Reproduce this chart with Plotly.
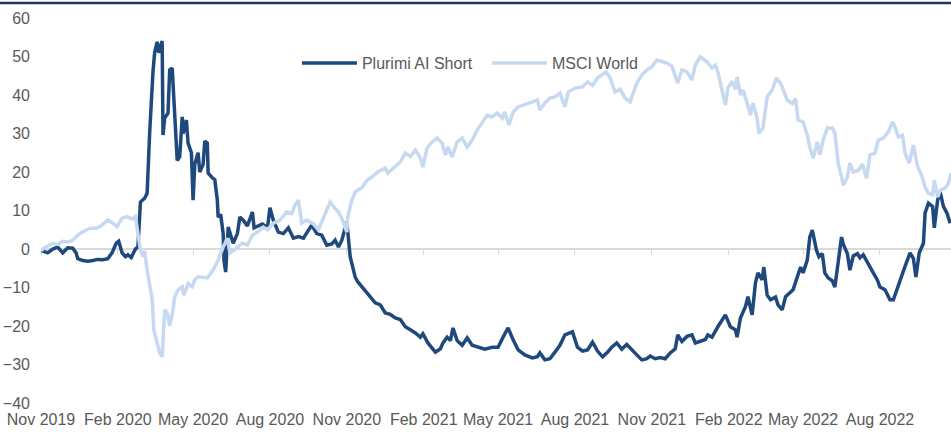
import pandas as pd
import plotly.graph_objects as go

# Data: days since 1 Nov 2019 and cumulative return (%)
start = pd.Timestamp("2019-11-01")
end = "2022-10-25"

plurimi_days = [
    0, 2, 8, 14, 20, 26, 32, 38, 42, 44,
    50, 56, 62, 68, 74, 80, 85, 90, 93, 97,
    101, 104, 108, 113, 116, 119, 124, 127, 130, 133,
    134, 136, 139, 141, 144, 145, 146, 148, 152, 154,
    157, 160, 163, 166, 169, 170, 174, 176, 180, 182,
    184, 188, 190, 194, 196, 199, 200, 205, 208, 211,
    212, 215, 218, 219, 221, 224, 226, 230, 235, 238,
    242, 247, 253, 255, 260, 265, 271, 274, 278, 284,
    290, 296, 302, 308, 314, 320, 324, 330, 336, 342,
    348, 352, 356, 360, 366, 370, 376, 379, 384, 388,
    394, 400, 406, 412, 418, 424, 430, 436, 442, 448,
    454, 457, 463, 468, 472, 478, 481, 486, 490, 493,
    498, 504, 510, 516, 523, 531, 540, 547, 553, 559,
    565, 571, 579, 588, 594, 597, 603, 609, 615, 621,
    627, 631, 636, 642, 648, 654, 660, 666, 672, 678,
    683, 689, 695, 701, 707, 713, 719, 725, 729, 735,
    741, 747, 753, 759, 762, 767, 773, 779, 783, 789,
    795, 798, 803, 810, 819, 825, 831, 833, 837, 843,
    846, 851, 855, 858, 863, 865, 869, 873, 879, 882,
    887, 891, 897, 900, 905, 909, 912, 917, 920, 923,
    928, 931, 935, 938, 942, 947, 950, 954, 958, 960,
    965, 968, 972, 977, 980, 984, 989, 992, 996, 1001,
    1004, 1010, 1016, 1020, 1025, 1031, 1034, 1040, 1044, 1047,
    1051, 1056, 1058, 1062, 1067, 1069, 1073, 1076, 1080, 1084,
    1088,
]
plurimi = [
    0, -0.5, -1, 0, 0.5, -1, 0.3, 0.2, -1, -2.5,
    -3, -3.2, -3, -2.7, -2.8, -2.5, -1, 1.5, 2, -1,
    -2, -1.5, -2.2, 0, 0.5, 12.2, 13.2, 14.5, 30, 44.7,
    46, 51, 53.8, 51, 53.5, 54, 29.6, 34, 35.3, 46.5,
    47, 33.5, 23, 24, 34.3, 30, 33.5, 27.5, 25, 12.7,
    22, 25, 20, 22, 28, 27.5, 19.7, 18.5, 18, 12.7,
    8.3, 9, 4, -3, -6, 5.7, 4, 1.5, 4, 8.3,
    7.5, 6, 9.6, 5.5, 6, 6.5, 5.5, 10.7, 7.5, 4.4,
    4, 5.5, 2.8, 3.2, 2.8, 5, 6.2, 4, 3.6, 1,
    1.3, 2.3, 0.5, 2.3, 7, -2, -7.3, -8.5, -9.8, -10.6,
    -12.4, -14, -14.5, -16.6, -17, -17.9, -18.3, -20.2, -21, -21.8,
    -22.9, -22, -24.4, -25.7, -26.8, -25.9, -24.4, -22.9, -23.8, -20.5,
    -23.8, -25, -23.1, -25, -25.5, -26, -25.5, -25.5, -22.9, -20.5,
    -23.6, -26.2, -27.5, -28.3, -28, -27, -28.8, -28.5, -26.8, -25,
    -22.3, -22, -21.5, -25.5, -26.5, -26.2, -24.2, -26.5, -28, -26.8,
    -25.5, -24.4, -26, -24.8, -26, -27.5, -28.8, -28.5, -27.8, -28.5,
    -28.2, -28.5, -27, -25.9, -22.3, -24, -22.7, -22.3, -24.4, -24,
    -23.5, -22.3, -22.9, -20.2, -17.1, -20.2, -21, -22.9, -17.9, -15,
    -12.4, -17.1, -8.8, -6.2, -8, -4.7, -12, -13.2, -12.5, -14.5,
    -15.8, -12.4, -11.3, -10.6, -7.3, -4.7, -6.2, -2.9, 3.1, 4.9,
    -0.3, -2, -1.2, -6.2, -7.5, -8.3, -9.9, -2.9, 3.1, 1.3,
    -1.2, -5.5, -1.8, -1.2, -2.3, -1.5, -3.6, -4.4, -6.2, -8.1,
    -9.9, -10.6, -13.2, -13.2, -9.9, -6.2, -4.5, -1, -2.5, -7.3,
    -1, 1.5, 9.4, 11.9, 11, 5.5, 12.7, 14.8, 11, 9.4,
    6.7,
]

msci_days = [
    0, 2, 8, 14, 20, 26, 32, 38, 44, 50,
    59, 67, 73, 80, 86, 91, 97, 103, 109, 113,
    116, 119, 122, 124, 127, 130, 133, 135, 139, 142,
    145, 146, 148, 151, 154, 158, 160, 164, 169, 171,
    176, 181, 184, 188, 193, 199, 206, 212, 218, 223,
    226, 230, 235, 241, 247, 253, 259, 266, 271, 278,
    286, 294, 300, 304, 308, 312, 318, 326, 332, 338,
    346, 352, 356, 361, 366, 367, 372, 376, 384, 391,
    396, 403, 412, 415, 424, 430, 436, 442, 448, 454,
    457, 462, 468, 474, 480, 484, 487, 492, 498, 504,
    510, 516, 522, 528, 534, 540, 546, 552, 555, 560,
    565, 571, 579, 588, 594, 597, 603, 609, 615, 621,
    627, 631, 639, 648, 654, 660, 666, 672, 676, 681,
    687, 693, 699, 705, 709, 713, 719, 725, 731, 737,
    743, 749, 755, 759, 762, 767, 773, 779, 783, 789,
    792, 797, 803, 807, 810, 815, 819, 822, 827, 831,
    833, 837, 840, 845, 849, 852, 857, 859, 864, 869,
    875, 880, 885, 888, 893, 899, 903, 906, 912, 917,
    920, 924, 929, 932, 936, 941, 947, 950, 954, 958,
    960, 965, 968, 972, 978, 983, 988, 992, 998, 1002,
    1008, 1014, 1019, 1022, 1026, 1031, 1034, 1039, 1044, 1049,
    1055, 1058, 1062, 1067, 1069, 1073, 1076, 1082, 1086, 1089,
]
msci = [
    -0.5, 0, 0.8, 1.5, 1.2, 2, 1.8, 2.3, 3.6, 4.5,
    5.4, 5.4, 6.2, 7.5, 6.7, 5.8, 8, 8.4, 7.8, 8.4,
    4, -0.3, -2, -0.5, -5.5, -9.8, -13, -21, -24, -27,
    -28, -22.8, -15.8, -16.5, -20, -15.8, -12.4, -10.6, -9.8, -12,
    -9, -9.8, -8, -7.2, -7.3, -7.5, -5.5, -2.9, 0.5, 2.8,
    -1, -0.5, 0.5, 1.5, 1, 3.6, 4.4, 5.7, 5, 6.7,
    7.5, 9.6, 9.2, 11.4, 12.7, 6.7, 7.5, 6.5, 5, 8.3,
    12.2, 10.5, 9.6, 7.5, 4.4, 8.3, 12.7, 14.8, 16, 18,
    18.7, 20, 21, 19.7, 21.3, 22.6, 24.9, 24, 25.7, 23.6,
    21.3, 26.2, 27.8, 28.8, 27.5, 24.4, 26.5, 23.9, 27.8, 28.8,
    26.5, 28.3, 30.9, 33, 34.8, 34.3, 35.3, 34, 35.6, 32.2,
    35.6, 36.9, 37.4, 38.2, 38.7, 36.1, 37.9, 39.2, 39.5, 40.5,
    36.9, 40.8, 41.8, 42.1, 43.4, 42.5, 44.4, 45.2, 46, 44.5,
    40.8, 41.5, 39.2, 38.2, 40.5, 43.1, 45.2, 46.5, 47.3, 49.1,
    48.7, 48.3, 47.5, 44.7, 43.1, 46.5, 46, 43.9, 47.8, 49.9,
    49.5, 48.6, 47, 47.8, 46, 40.8, 37.4, 41.8, 43.5, 41.5,
    44.7, 40, 41.3, 37.9, 34.8, 37.9, 34, 30.1, 31.4, 39.5,
    41.3, 44.4, 43.1, 41.5, 38.7, 37.8, 39, 33.5, 33, 29.6,
    26.5, 23.6, 27.8, 24.5, 28.3, 31.4, 31.4, 30.1, 22.3, 18.7,
    16.6, 18.7, 22.3, 20, 20.4, 22, 18.4, 24.4, 24.9, 28.3,
    28.8, 30.4, 33, 31.7, 29.1, 29.5, 24.9, 22.3, 27, 21.5,
    18.4, 16, 14.5, 14.1, 17.9, 13.5, 15.2, 15.8, 17.1, 19.7,
]

tick_dates = ["2019-11-01", "2020-02-01", "2020-05-01", "2020-08-01",
              "2020-11-01", "2021-02-01", "2021-05-01", "2021-08-01",
              "2021-11-01", "2022-02-01", "2022-05-01", "2022-08-01"]
tick_labels = ["Nov 2019", "Feb 2020", "May 2020", "Aug 2020",
               "Nov 2020", "Feb 2021", "May 2021", "Aug 2021",
               "Nov 2021", "Feb 2022", "May 2022", "Aug 2022"]

y_min, y_max = -40, 60

dark_blue = "#1F497D"
light_blue = "#C6D9F1"
grey_text = "#595959"
font_family = "Liberation Sans, Arial, sans-serif"

plurimi_dates = start + pd.to_timedelta(plurimi_days, unit="D")
msci_dates = start + pd.to_timedelta(msci_days, unit="D")

fig = go.Figure()
fig.add_trace(go.Scatter(x=plurimi_dates, y=plurimi, mode="lines", name="Plurimi AI Short",
                         line=dict(color=dark_blue, width=3.5)))
fig.add_trace(go.Scatter(x=msci_dates, y=msci, mode="lines", name="MSCI World",
                         line=dict(color=light_blue, width=3.5)))
# empty trace so the zero-line tick axis gets drawn
fig.add_trace(go.Scatter(x=[], y=[], xaxis="x2", showlegend=False, hoverinfo="skip"))

fig.update_layout(
    width=951, height=432,
    margin=dict(l=41, r=0, t=18, b=29),
    paper_bgcolor="white", plot_bgcolor="white",
    font=dict(family=font_family, size=16, color=grey_text),
    xaxis=dict(
        type="date", range=[start, end],
        tickmode="array", tickvals=tick_dates, ticktext=tick_labels,
        showgrid=False, zeroline=False, showline=False, ticks="",
        ticklabelstandoff=5,
    ),
    xaxis2=dict(
        type="date", range=[start, end], overlaying="x", anchor="free",
        position=(0 - y_min) / (y_max - y_min),
        tickmode="array", tickvals=tick_dates, showticklabels=False,
        showgrid=False, zeroline=False, showline=False,
        ticks="outside", ticklen=5, tickwidth=1, tickcolor="#D9D9D9",
        layer="below traces",
    ),
    yaxis=dict(
        range=[y_min, y_max], dtick=10, tick0=0,
        showgrid=False, showline=False, ticks="",
        zeroline=True, zerolinecolor="#D9D9D9", zerolinewidth=2,
        ticklabelstandoff=10,
    ),
    legend=dict(
        orientation="h", x=0.49, y=0.883, xanchor="center", yanchor="middle",
        bgcolor="rgba(0,0,0,0)", font=dict(size=16, color=grey_text),
        itemwidth=55, entrywidth=120, entrywidthmode="pixels",
    ),
    shapes=[dict(type="line", xref="paper", yref="paper",
                 x0=-0.05, x1=1.0, y0=1.039, y1=1.039,
                 line=dict(color="#1F3864", width=2.5))],
)

# the page's default body margin would shift the chart by 8px
fig.write_html("out.html", config={"displayModeBar": False},
               post_script="document.body.style.margin='0';")
